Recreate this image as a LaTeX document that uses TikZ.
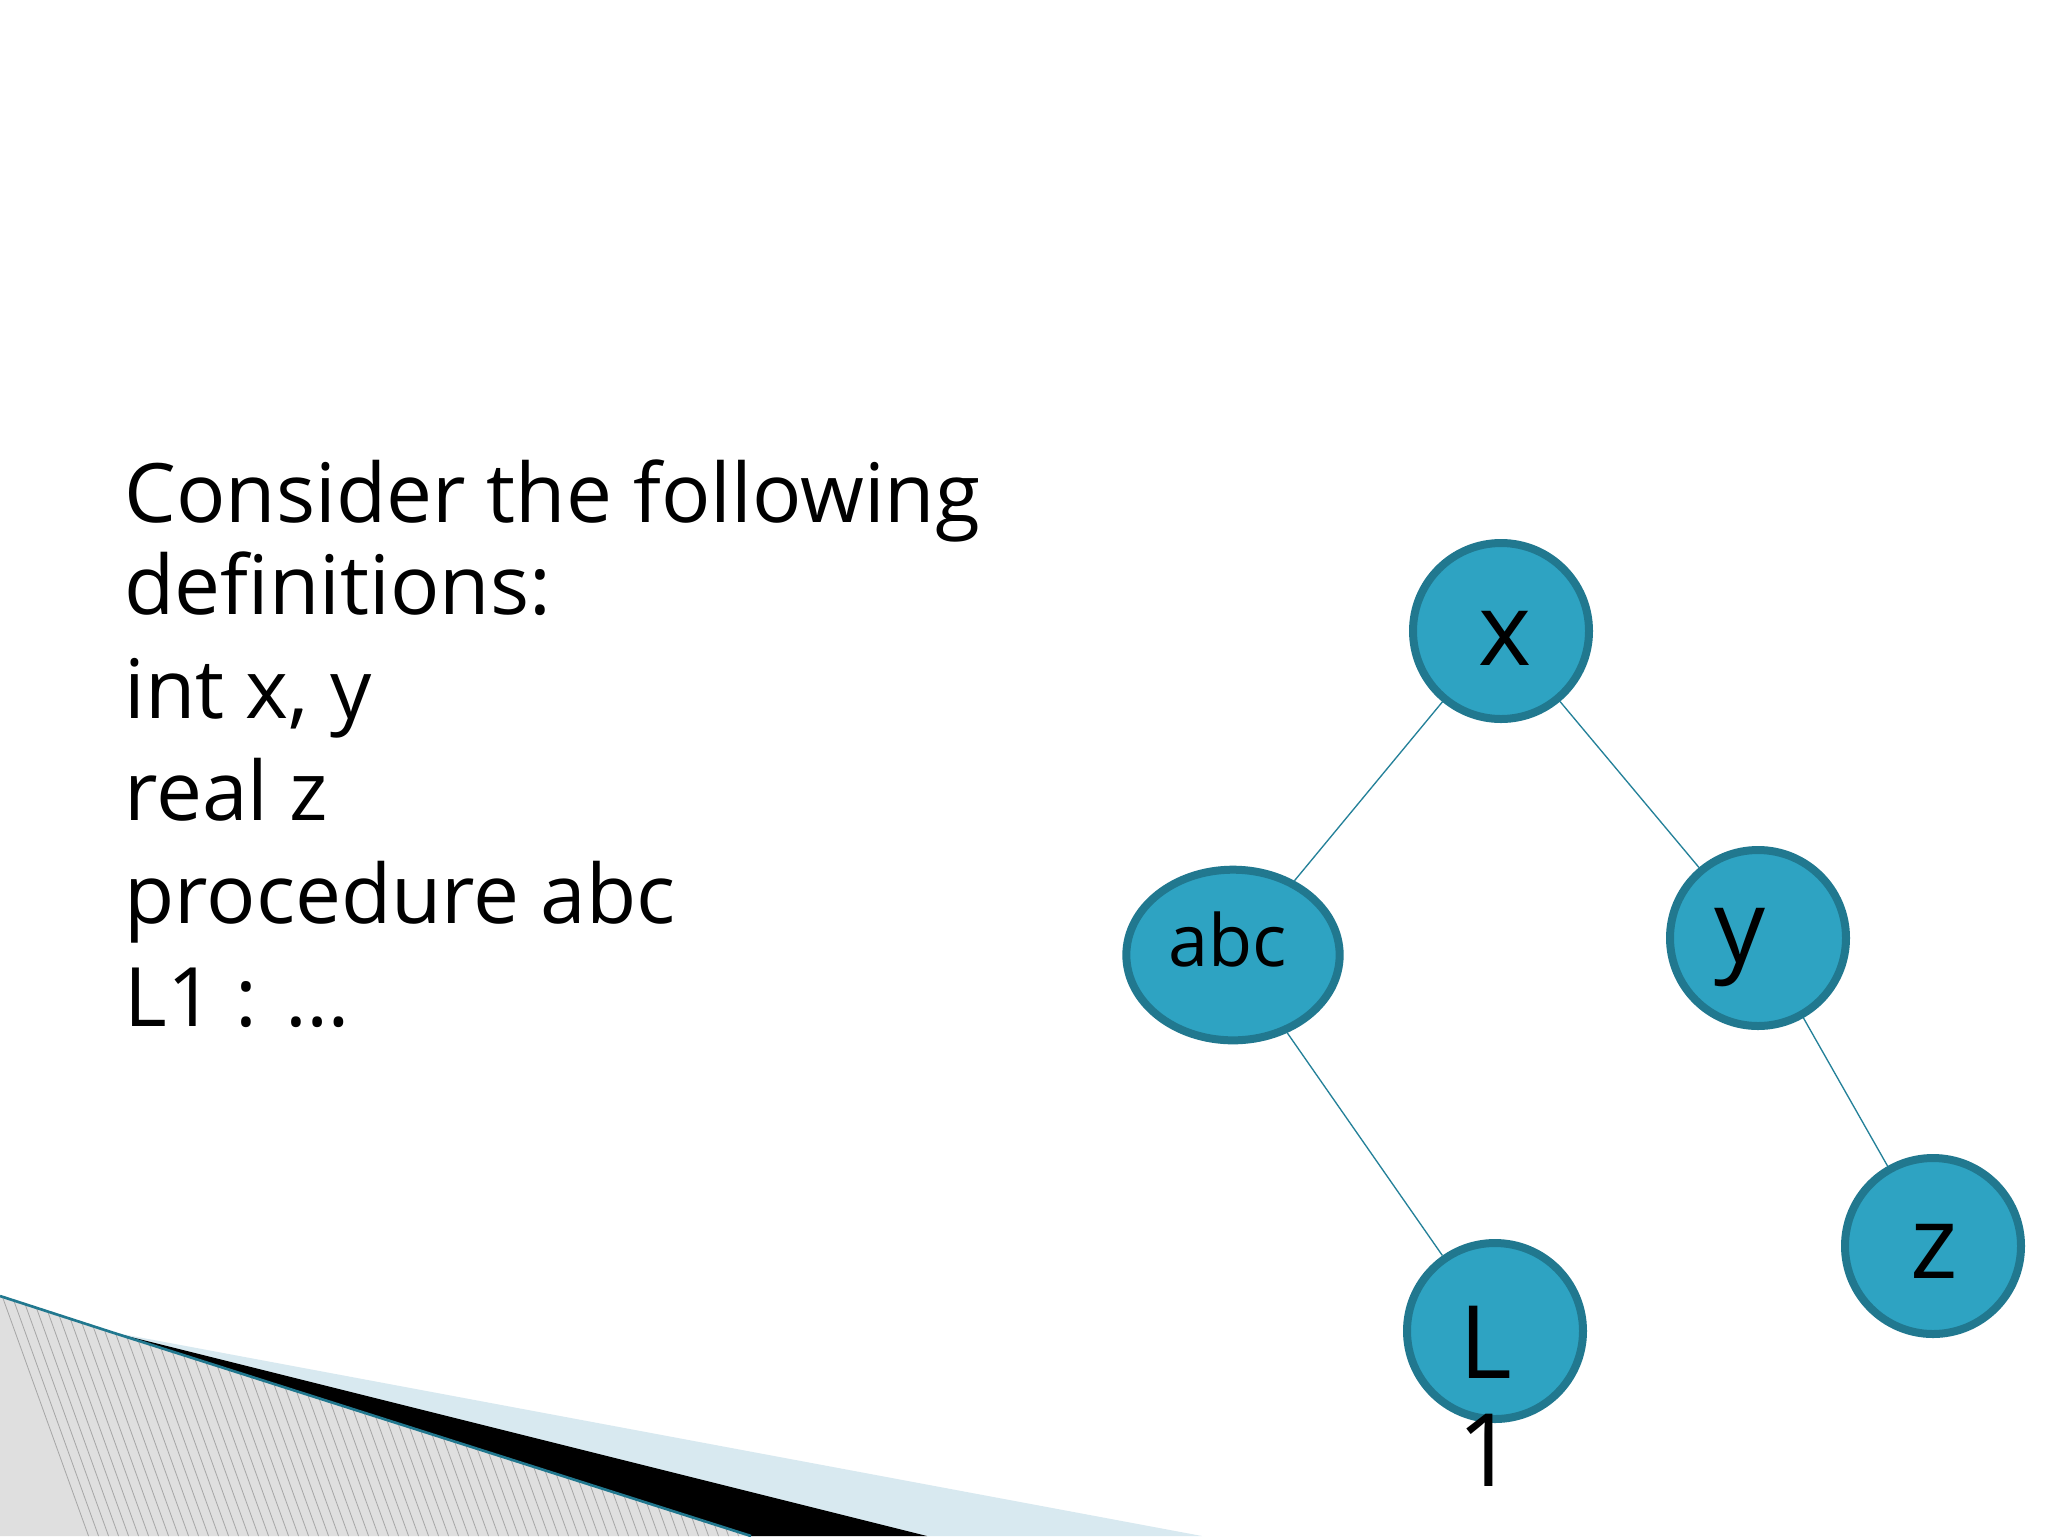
\documentclass[tikz,border=0pt]{standalone}
\usepackage{fontspec}
\setmainfont{Open Sans}
\usetikzlibrary{patterns,shapes.geometric}
\definecolor{nfill}{HTML}{2EA3C2}
\definecolor{nbord}{HTML}{21788F}
\definecolor{lblue}{HTML}{D8E9F0}
\begin{document}
\begin{tikzpicture}[x=0.375pt,y=-0.375pt,
  vnode/.style={circle,fill=nfill,draw=nbord,line width=3pt,minimum size=66pt,inner sep=0pt},
  lab/.style={font=\fontsize{38}{40}\selectfont,anchor=base},
  edge/.style={draw=nbord!80!nfill,line width=0.5pt}]
\useasboundingbox (0,0) rectangle (2048,1536);
\fill[white] (0,0) rectangle (2048,1536);
% bottom-left decoration
\fill[lblue] (111,1332) -- (1202,1536) -- (751,1536) -- cycle;
\fill[black] (111,1332) -- (927,1536) -- (751,1536) -- cycle;
\fill[gray!25] (0,1296) -- (111,1332) -- (751,1536) -- (0,1536) -- cycle;
\begin{scope}
\clip (0,1296) -- (111,1332) -- (751,1536) -- (0,1536) -- cycle;
\foreach \i in {0,10,...,800} \draw[gray!70,line width=0.3pt] (\i,1290) -- (\i+90,1540);
\end{scope}
\draw[nbord,line width=1pt] (0,1296) -- (111,1332) -- (751,1536);
% text
\begin{scope}[every node/.style={anchor=base west,inner sep=0pt,font=\fontsize{30.75}{36}\selectfont}]
\node (t1) at (124,522) {Consider the following};
\node (t2) at (124,614) {definitions:};
\node (t3) at (124,718) {int x, y};
\node (t4) at (124,820) {real z};
\node (t5) at (124,923) {procedure abc};
\node (t6) at (124,1026) {L1 : …};
\end{scope}
% tree
\node[vnode] (x) at (1501,631) {};
\node[vnode,ellipse,minimum width=80pt,minimum height=64pt] (abc) at (1233,955) {};
\node[vnode] (y) at (1758,938) {};
\node[vnode] (l1) at (1495,1331) {};
\node[vnode] (z) at (1933,1246) {};
\draw[edge] (x) -- (abc);
\draw[edge] (x) -- (y);
\draw[edge] (abc) -- (l1);
\draw[edge] (y) -- (z);
\node[lab] (xl) at (1505,665) {x};
\node[lab,font=\fontsize{27}{30}\selectfont] (abcl) at (1228,966) {abc};
\node[lab] (yl) at (1740,962) {y};
\node[lab] (zl) at (1934,1278) {z};
\node[lab] (ll) at (1486,1378) {L};
\node[lab] (one) at (1486,1486) {1};
\end{tikzpicture}
\end{document}
